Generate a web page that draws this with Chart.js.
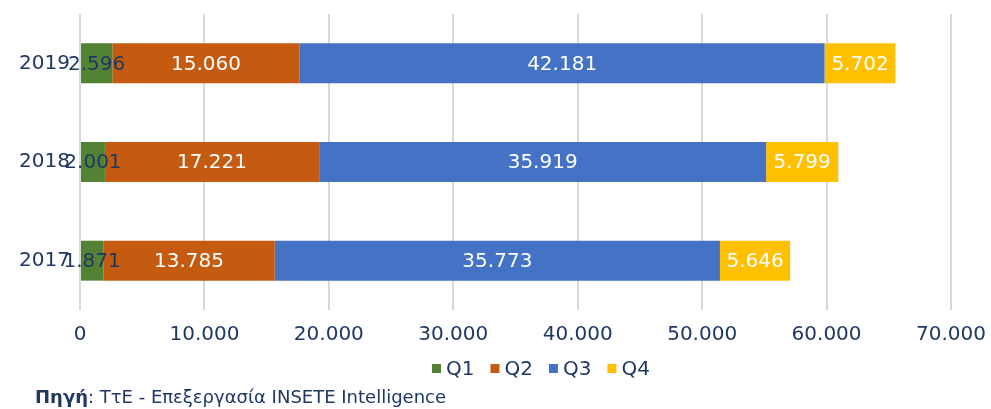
<!DOCTYPE html>
<html>
<head>
<meta charset="utf-8">
<script src="https://cdn.jsdelivr.net/npm/chart.js@4.4.1/dist/chart.umd.min.js"></script>
<style>
  html, body { margin: 0; padding: 0; background: #fff; }
  #wrap { width: 991px; height: 409px; }
</style>
</head>
<body>
<div id="wrap"><canvas id="chart"></canvas></div>
<script>
const years = ["2019", "2018", "2017"];
const q1 = [2596, 2001, 1871];
const q2 = [15060, 17221, 13785];
const q3 = [42181, 35919, 35773];
const q4 = [5702, 5799, 5646];
const xTicks = [0, 10000, 20000, 30000, 40000, 50000, 60000, 70000];

const navy = "#1F3864";
const font = "'DejaVu Sans', Verdana, sans-serif";

// 12345 -> "12.345"
const fmt = (v) => String(Math.round(v)).replace(/\B(?=(\d{3})+(?!\d))/g, ".");

// draws the value in the middle of each bar segment
const valueLabels = {
  id: "valueLabels",
  afterDatasetsDraw(chart) {
    const ctx = chart.ctx;
    ctx.save();
    ctx.font = "20px " + font;
    ctx.textAlign = "center";
    ctx.textBaseline = "middle";
    chart.data.datasets.forEach((ds, i) => {
      const meta = chart.getDatasetMeta(i);
      meta.data.forEach((bar, j) => {
        ctx.fillStyle = ds.labelColor;
        ctx.fillText(fmt(ds.data[j]), (bar.x + bar.base) / 2, bar.y + 1);
      });
    });
    ctx.restore();
  },
};

// legend row + source line under the axis
const bottomText = {
  id: "bottomText",
  afterDraw(chart) {
    const ctx = chart.ctx;
    const area = chart.chartArea;
    ctx.save();
    ctx.textBaseline = "middle";
    ctx.textAlign = "left";

    // legend
    let x = 432;
    const ly = area.bottom + 59;
    ctx.font = "20px " + font;
    chart.data.datasets.forEach((ds) => {
      ctx.fillStyle = ds.backgroundColor;
      ctx.fillRect(x, ly - 5, 9, 9);
      x += 14;
      ctx.fillStyle = navy;
      ctx.fillText(ds.label, x, ly + 1);
      x += ctx.measureText(ds.label).width + 16;
    });

    // source
    const sy = area.bottom + 88;
    ctx.fillStyle = navy;
    ctx.font = "bold 18px " + font;
    const bold = "Πηγή";
    ctx.fillText(bold, 35, sy);
    const w = ctx.measureText(bold).width;
    ctx.font = "18px " + font;
    ctx.fillText(": ΤτΕ - Επεξεργασία INSETE Intelligence", 35 + w, sy);
    ctx.restore();
  },
};

const ctx = document.getElementById("chart").getContext("2d");
new Chart(ctx, {
  type: "bar",
  data: {
    labels: years,
    datasets: [
      { label: "Q1", data: q1, backgroundColor: "#548235", labelColor: navy },
      { label: "Q2", data: q2, backgroundColor: "#C55A11", labelColor: "#ffffff" },
      { label: "Q3", data: q3, backgroundColor: "#4472C4", labelColor: "#ffffff" },
      { label: "Q4", data: q4, backgroundColor: "#FFC000", labelColor: "#ffffff" },
    ],
  },
  options: {
    indexAxis: "y",
    responsive: true,
    maintainAspectRatio: false,
    animation: false,
    datasets: {
      bar: { categoryPercentage: 1, barPercentage: 0.405, borderWidth: 0 },
    },
    layout: { padding: { top: 8, right: 40, left: 0, bottom: 61 } },
    scales: {
      x: {
        stacked: true,
        min: 0,
        max: 70000,
        afterBuildTicks: (scale) => {
          scale.ticks = xTicks.map((v) => ({ value: v }));
        },
        afterFit: (scale) => {
          scale.height = 38;
          scale.paddingLeft = 0;
          scale.paddingRight = 0;
        },
        grid: { color: "#D9D9D9", lineWidth: 2, drawTicks: false },
        border: { display: false },
        ticks: {
          padding: 13,
          color: navy,
          font: { family: font, size: 20 },
          maxRotation: 0,
          callback: (v) => fmt(v),
        },
      },
      y: {
        stacked: true,
        afterFit: (scale) => {
          scale.width = 80;
        },
        grid: { display: false },
        border: { display: false },
        ticks: {
          padding: 2,
          color: navy,
          font: { family: font, size: 20 },
        },
      },
    },
    plugins: {
      legend: { display: false },
      tooltip: { enabled: false },
    },
  },
  plugins: [valueLabels, bottomText],
});
</script>
</body>
</html>
